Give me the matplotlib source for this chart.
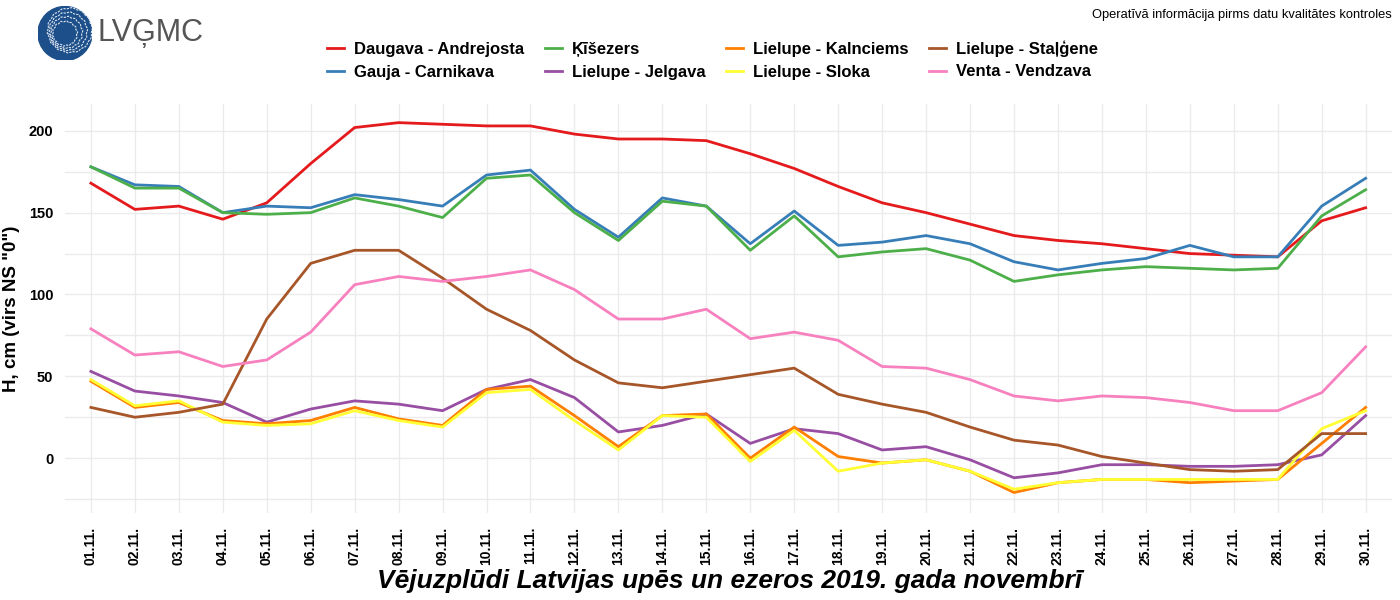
import matplotlib
matplotlib.use("Agg")
import matplotlib.pyplot as plt
from matplotlib.patches import Circle
import numpy as np

plt.rcParams['font.family'] = ['Liberation Sans', 'DejaVu Sans']

# dates on the x axis
days = ["%02d.11." % d for d in range(1, 31)]

# water level, cm above NS "0"
daugava = [168, 152, 154, 146, 156, 180, 202, 205, 204, 203,
           203, 198, 195, 195, 194, 186, 177, 166, 156, 150,
           143, 136, 133, 131, 128, 125, 124, 123, 145, 153]
gauja = [178, 167, 166, 150, 154, 153, 161, 158, 154, 173,
         176, 152, 135, 159, 154, 131, 151, 130, 132, 136,
         131, 120, 115, 119, 122, 130, 123, 123, 154, 171]
kisezers = [178, 165, 165, 150, 149, 150, 159, 154, 147, 171,
            173, 150, 133, 157, 154, 127, 148, 123, 126, 128,
            121, 108, 112, 115, 117, 116, 115, 116, 148, 164]
jelgava = [53, 41, 38, 34, 22, 30, 35, 33, 29, 42,
           48, 37, 16, 20, 27, 9, 18, 15, 5, 7,
           -1, -12, -9, -4, -4, -5, -5, -4, 2, 26]
kalnciems = [47, 31, 34, 23, 21, 23, 31, 24, 20, 42,
             44, 26, 7, 26, 27, 0, 19, 1, -3, -1,
             -8, -21, -15, -13, -13, -15, -14, -13, 9, 31]
sloka = [48, 32, 35, 22, 20, 21, 29, 23, 19, 40,
         42, 23, 5, 26, 25, -2, 17, -8, -3, -1,
         -8, -19, -15, -13, -13, -13, -13, -13, 18, 29]
stalgene = [31, 25, 28, 33, 85, 119, 127, 127, 110, 91,
            78, 60, 46, 43, 47, 51, 55, 39, 33, 28,
            19, 11, 8, 1, -3, -7, -8, -7, 15, 15]
vendzava = [79, 63, 65, 56, 60, 77, 106, 111, 108, 111,
            115, 103, 85, 85, 91, 73, 77, 72, 56, 55,
            48, 38, 35, 38, 37, 34, 29, 29, 40, 68]

names = ["Daugava - Andrejosta", "Gauja - Carnikava", "Ķīšezers",
         "Lielupe - Jelgava", "Lielupe - Kalnciems", "Lielupe - Sloka",
         "Lielupe - Staļģene", "Venta - Vendzava"]
series = [daugava, gauja, kisezers, jelgava, kalnciems, sloka, stalgene, vendzava]
colors = ["#E41A1C", "#377EB8", "#4DAF4A", "#984EA3",
          "#FF7F00", "#FFFF33", "#A65628", "#F781BF"]

fig = plt.figure(figsize=(14, 6), dpi=100)
ax = fig.add_axes([0.0461, 0.1453, 0.9482, 0.6814])

x = np.arange(len(days))
for vals, name, c in zip(series, names, colors):
    ax.plot(x, vals, color=c, lw=2.0, label=name, solid_joinstyle='round')

ax.set_xlim(-0.6, len(days) - 1 + 0.6)
ax.set_ylim(-33.4, 216.4)
ax.set_xticks(x)
ax.set_xticklabels(days, rotation=90, fontsize=10, fontweight='bold')
ax.set_yticks([0, 50, 100, 150, 200])
ax.set_yticks([-25, 25, 75, 125, 175], minor=True)
ax.tick_params(axis='y', labelsize=10.5, length=0, pad=8, which='both')
ax.tick_params(axis='x', length=0, pad=10)
for lab in ax.get_yticklabels():
    lab.set_fontweight('bold')
ax.grid(True, which='both', color='#EBEBEB', lw=1)
ax.set_axisbelow(True)
for s in ax.spines.values():
    s.set_visible(False)
ax.set_ylabel('H, cm (virs NS "0")', fontsize=13.5, fontweight='bold', labelpad=6)

fig.text(0.521, 0.032, "Vējuzplūdi Latvijas upēs un ezeros 2019. gada novembrī",
         ha='center', va='center', fontsize=19, fontweight='bold', style='italic')
fig.text(0.994, 0.975, "Operatīvā informācija pirms datu kvalitātes kontroles",
         ha='right', va='center', fontsize=9.3)

fig.legend(loc='center', bbox_to_anchor=(0.509, 0.9), ncol=4, frameon=False,
           prop={'weight': 'bold', 'size': 12}, handlelength=1.0,
           handletextpad=0.6, columnspacing=1.25, labelspacing=0.45)

# logo
lax = fig.add_axes([0.0271, 0.8992, 0.0386, 0.09])
lax.set_xlim(-1, 1)
lax.set_ylim(-1, 1)
lax.set_aspect('equal')
lax.axis('off')
lax.add_patch(Circle((0, 0), 1, color='#1D4F8A'))
t = np.linspace(0, 2 * np.pi, 200)
for i, r in enumerate([0.45, 0.58, 0.7, 0.82]):
    rr = r + 0.02 * np.sin(14 * t)
    lax.plot(0.06 * i + rr * np.cos(t), 0.04 * i + rr * np.sin(t),
             color='#DDE6F0', lw=0.8, ls=(0, (2, 1)))
fig.text(0.0695, 0.945, "LVĢMC", ha='left', va='center', fontsize=22,
         color='#555555')

fig.savefig("out.png", dpi=100)
